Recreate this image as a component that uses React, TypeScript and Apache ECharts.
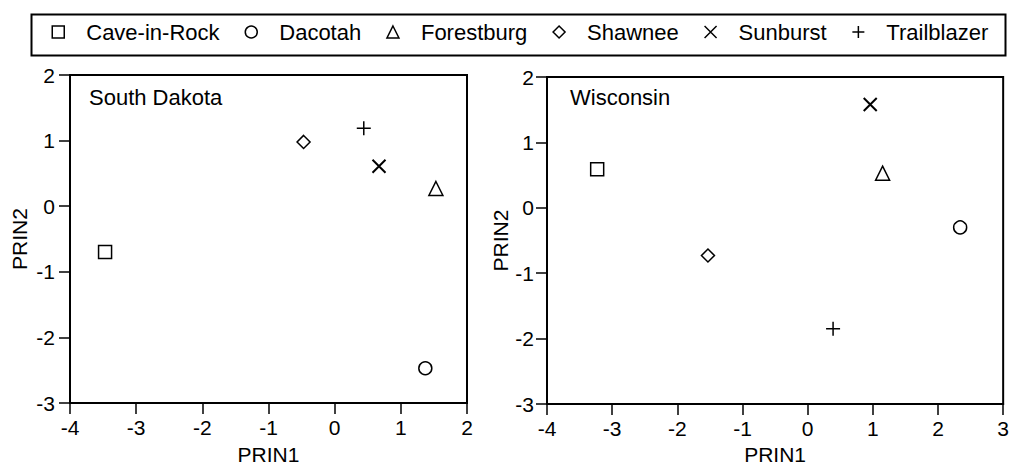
import React, { useEffect, useRef } from "react";
import * as echarts from "echarts";

// Data
const cultivars = ["Cave-in-Rock", "Dacotah", "Forestburg", "Shawnee", "Sunburst", "Trailblazer"];
const sdPrin1 = [-3.47, 1.37, 1.53, -0.47, 0.67, 0.44];
const sdPrin2 = [-0.7, -2.47, 0.27, 0.98, 0.61, 1.19];
const wiPrin1 = [-3.23, 2.34, 1.15, -1.53, 0.96, 0.39];
const wiPrin2 = [0.59, -0.3, 0.53, -0.73, 1.58, -1.85];
const panels = ["South Dakota", "Wisconsin"];
const xRanges = [
  [-4, 2],
  [-4, 3],
];
const yRange = [-3, 2];

const symbols = [
  "rect",
  "circle",
  "triangle",
  "diamond",
  "path://M0,0L10,10M10,0L0,10",
  "path://M5,0L5,10M0,5L10,5",
];
const symbolSizes = [13, 13, 14, 13, 13, 14];

const FONT = "'Liberation Sans', Arial, Helvetica, sans-serif";

export default function App() {
  const ref = useRef<HTMLDivElement>(null);

  useEffect(() => {
    if (!ref.current) return;
    const chart = echarts.init(ref.current, null, { renderer: "svg" });

    const grids = [
      { left: 70, top: 75, width: 397, height: 333 },
      { left: 547, top: 77, width: 460, height: 332 },
    ];

    const axisCommon = (extra: any) => ({
      type: "value",
      interval: 1,
      splitLine: { show: false },
      axisLine: { show: true, onZero: false, lineStyle: { color: "#000", width: 2 } },
      axisTick: { show: true, inside: false, length: 11, lineStyle: { color: "#000", width: 1.5 } },
      nameLocation: "middle",
      nameTextStyle: { color: "#000", fontSize: 21, fontFamily: FONT },
      ...extra,
    });

    const xAxis = [0, 1].map((g) =>
      axisCommon({
        gridIndex: g,
        min: xRanges[g][0],
        max: xRanges[g][1],
        name: "PRIN1",
        nameGap: g === 0 ? 41 : 40,
        axisLabel: { color: "#000", fontSize: 21, fontFamily: FONT, margin: 14 },
      })
    );
    const yAxis = [0, 1].map((g) =>
      axisCommon({
        gridIndex: g,
        min: yRange[0],
        max: yRange[1],
        name: "PRIN2",
        nameGap: g === 0 ? 40 : 31.5,
        axisLabel: { color: "#000", fontSize: 21, fontFamily: FONT, margin: g === 0 ? 15 : 13 },
      })
    );

    const datasets = [
      [sdPrin1, sdPrin2],
      [wiPrin1, wiPrin2],
    ];

    const series: any[] = [];
    [0, 1].forEach((g) => {
      cultivars.forEach((name, i) => {
        series.push({
          type: "scatter",
          name,
          xAxisIndex: g,
          yAxisIndex: g,
          symbol: symbols[i],
          symbolSize: symbolSizes[i],
          itemStyle: {
            color: "rgba(0,0,0,0)",
            borderColor: "#000",
            borderWidth: i === 4 ? 2 : 1.5,
            opacity: 1,
          },
          emphasis: { disabled: true },
          data: [[datasets[g][0][i], datasets[g][1][i]]],
        });
      });
    });

    chart.setOption({
      animation: false,
      textStyle: { fontFamily: FONT },
      grid: grids.map((g) => ({
        ...g,
        show: true,
        borderColor: "#000",
        borderWidth: 2,
        backgroundColor: "transparent",
        containLabel: false,
      })),
      legend: {
        left: 51.5,
        top: 20,
        padding: 0,
        itemWidth: 12,
        itemHeight: 12,
        itemGap: 25,
        selectedMode: false,
        data: cultivars.map((n, i) => ({ name: n, icon: symbols[i] })),
        itemStyle: { color: "rgba(0,0,0,0)", borderColor: "#000", borderWidth: 1.5 },
        textStyle: {
          color: "#000",
          fontSize: 22,
          fontFamily: FONT,
          lineHeight: 24,
          padding: [0, 0, 0, 17],
        },
      },
      graphic: [
        {
          type: "rect",
          left: 29,
          top: 12,
          shape: { width: 974, height: 41 },
          style: { fill: "none", stroke: "#000", lineWidth: 2 },
          silent: true,
        },
        {
          type: "text",
          left: 89,
          top: 86,
          style: { text: panels[0], fill: "#000", fontSize: 22, fontFamily: FONT },
        },
        {
          type: "text",
          left: 570,
          top: 86,
          style: { text: panels[1], fill: "#000", fontSize: 22, fontFamily: FONT },
        },
      ],
      xAxis,
      yAxis,
      series,
    });

    return () => chart.dispose();
  }, []);

  return (
    <div
      ref={ref}
      style={{ position: "absolute", left: 0, top: 0, width: 1012, height: 470, background: "#fff" }}
    />
  );
}
